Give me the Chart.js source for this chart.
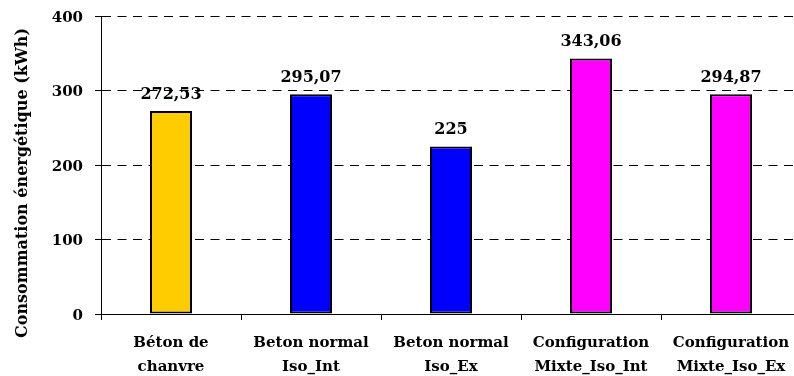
<!DOCTYPE html>
<html>
<head>
<meta charset="utf-8">
<script src="https://cdn.jsdelivr.net/npm/chart.js@4/dist/chart.umd.min.js"></script>
<style>
html, body { margin: 0; padding: 0; background: #fff; overflow: hidden; }
</style>
</head>
<body>
<canvas id="energyChart" width="802" height="376"></canvas>
<script>
// Consommation par configuration de paroi
const categories = [
  ['Béton de', 'chanvre'],
  ['Beton normal', 'Iso_Int'],
  ['Beton normal', 'Iso_Ex'],
  ['Configuration', 'Mixte_Iso_Int'],
  ['Configuration', 'Mixte_Iso_Ex']
];
const consumption = [272.53, 295.07, 225, 343.06, 294.87];
const barColors = ['#FFCC00', '#0000FF', '#0000FF', '#FF00FF', '#FF00FF'];
const yTitle = 'Consommation énergétique (kWh)';

const serif = '"DejaVu Serif", "Liberation Serif", serif';

// value written above each bar, French decimal comma
const barValueLabels = {
  id: 'barValueLabels',
  afterDatasetsDraw(chart) {
    const ctx = chart.ctx;
    const meta = chart.getDatasetMeta(0);
    ctx.save();
    ctx.font = 'bold 16px ' + serif;
    ctx.fillStyle = '#000';
    ctx.textAlign = 'center';
    ctx.textBaseline = 'alphabetic';
    meta.data.forEach((bar, i) => {
      ctx.fillText(String(consumption[i]).replace('.', ','), bar.x, bar.y - 12);
    });
    ctx.restore();
  }
};

// rotated axis title, placed by hand
const axisTitle = {
  id: 'axisTitle',
  afterDraw(chart) {
    const ctx = chart.ctx;
    ctx.save();
    ctx.translate(23, 183);
    ctx.rotate(-Math.PI / 2);
    ctx.font = 'bold 16px ' + serif;
    ctx.fillStyle = '#000';
    ctx.textAlign = 'center';
    ctx.textBaseline = 'middle';
    ctx.fillText(yTitle, 0, 0);
    ctx.restore();
  }
};

new Chart(document.getElementById('energyChart'), {
  type: 'bar',
  data: {
    labels: categories,
    datasets: [{
      data: consumption,
      backgroundColor: barColors,
      borderColor: '#000',
      borderWidth: 2,
      borderSkipped: false,
      categoryPercentage: 1,
      barPercentage: 0.3
    }]
  },
  options: {
    responsive: false,
    animation: false,
    layout: { padding: { top: 16, right: 1, left: 0, bottom: 0 } },
    plugins: {
      legend: { display: false },
      tooltip: { enabled: false }
    },
    scales: {
      x: {
        afterFit(scale) { scale.height = 62; },
        grid: {
          offset: true,
          drawOnChartArea: false,
          drawTicks: true,
          tickLength: 6,
          tickColor: '#000'
        },
        border: { display: true, color: '#000', width: 1 },
        ticks: {
          color: '#000',
          padding: 11,
          maxRotation: 0,
          autoSkip: false,
          font: { family: serif, size: 15, weight: 'bold', lineHeight: 1.6 }
        }
      },
      y: {
        min: 0,
        max: 400,
        afterFit(scale) {
          scale.width = 101;
          scale.paddingTop = 0;
          scale.paddingBottom = 0;
        },
        grid: {
          color: '#000',
          lineWidth: 1,
          tickLength: 6,
          tickColor: '#000'
        },
        border: { display: true, color: '#000', width: 1, dash: [9, 6.5] },
        ticks: {
          stepSize: 100,
          color: '#000',
          padding: 12,
          labelOffset: 2,
          font: { family: serif, size: 15, weight: 'bold' }
        }
      }
    }
  },
  plugins: [barValueLabels, axisTitle]
});
</script>
</body>
</html>
